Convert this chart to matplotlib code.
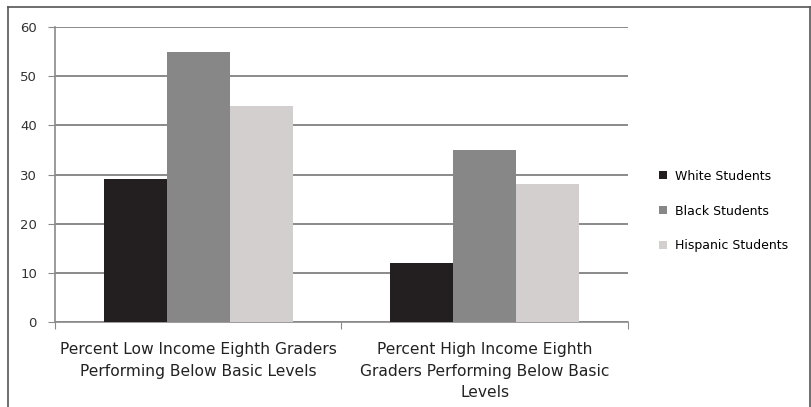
import numpy as np
import matplotlib.pyplot as plt
from matplotlib.lines import Line2D

# Datos
categorias = ['Percent Low Income Eighth Graders\nPerforming Below Basic Levels',
              'Percent High Income Eighth\nGraders Performing Below Basic\nLevels']
grupos = ['White Students', 'Black Students', 'Hispanic Students']
white = [29, 12]
black = [55, 35]
hispanic = [44, 28]
colores = ['#231f20', '#878787', '#d3cfcf']

fig = plt.figure(figsize=(8.11, 4.07), dpi=100)
ax = fig.add_axes([55 / 811, 1 - 322 / 407, (628 - 55) / 811, (322 - 27) / 407])

x = np.arange(len(categorias))
ancho = 0.22
for i, (serie, col, nombre) in enumerate(zip([white, black, hispanic], colores, grupos)):
    ax.bar(x + (i - 1) * ancho, serie, ancho, color=col, label=nombre, zorder=3)

ax.set_xlim(-0.5, 1.5)
ax.set_ylim(0, 60)
ax.set_yticks(range(0, 61, 10))
ax.yaxis.grid(True, color='#8a8a8a', linewidth=1.4, zorder=0)
ax.tick_params(axis='y', length=5, color='#8a8a8a', labelsize=9.5, labelcolor='#333333', pad=8)

ax.set_xticks([-0.5, 0.5, 1.5])
ax.set_xticklabels([])
ax.tick_params(axis='x', length=5, color='#8a8a8a')
for xi, texto in zip(x, categorias):
    ax.text(xi, -4.1, texto, ha='center', va='top', fontsize=11.2, color='#222222',
            linespacing=1.55, transform=ax.transData)

for lado in ['top', 'right']:
    ax.spines[lado].set_visible(False)
for lado in ['left', 'bottom']:
    ax.spines[lado].set_color('#8a8a8a')
    ax.spines[lado].set_linewidth(1.2)

ax.legend(loc='center left', bbox_to_anchor=(1.054, 0.376), frameon=False, fontsize=9,
          handlelength=0.65, handleheight=0.65, labelspacing=1.75, handletextpad=0.6,
          borderpad=0, borderaxespad=0)

# marco exterior
for (x0, y0, x1, y1) in [(8, 7, 810, 7), (8, 7, 8, 407), (810, 7, 810, 407)]:
    fig.add_artist(Line2D([x0 / 811, x1 / 811], [1 - y0 / 407, 1 - y1 / 407],
                          color='#555555', linewidth=1.2, transform=fig.transFigure))

plt.savefig('out.png', dpi=100)
